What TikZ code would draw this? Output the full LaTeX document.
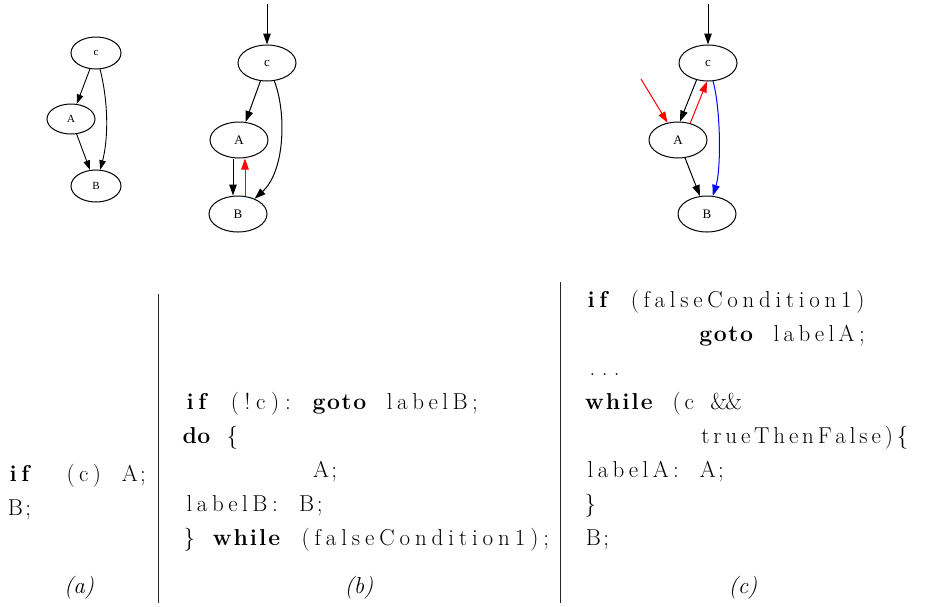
\documentclass[tikz,border=0pt]{standalone}
\usepackage{fontspec}
\newfontfamily\gvfont{Liberation Serif}
\usetikzlibrary{arrows.meta,shapes.geometric}
\ExplSyntaxOn
\dim_new:N \cw
\dim_set:Nn \cw {14.3pt}
\tl_new:N \l_fc_buf_tl
\cs_new_protected:Npn \fc_char:n #1
  {
    \str_case:nnF {#1}
      { { < } { \{ } { > } { \} } }
      { #1 }
  }
\cs_new_protected:Npn \fc_unit:n #1
  {
    \hbox_to_wd:nn { \int_eval:n { \str_count:n {#1} } \cw }
      { \hss \str_map_inline:nn {#1} { \fc_char:n {##1} \hss } }
  }
\cs_new_protected:Npn \fc_bold:n #1
  { \group_begin: \bfseries \fc_unit:n {#1} \group_end: }
\cs_new_protected:Npn \fc_kw:n #1
  {
    \str_case:nnF {#1}
      {
        {if} { \fc_bold:n {#1} }
        {do} { \fc_bold:n {#1} }
        {while} { \fc_bold:n {#1} }
        {goto} { \fc_bold:n {#1} }
      }
      { \fc_unit:n {#1} }
  }
\cs_new_protected:Npn \fc_flush:
  {
    \tl_if_empty:NF \l_fc_buf_tl
      {
        \exp_args:NV \fc_kw:n \l_fc_buf_tl
        \tl_clear:N \l_fc_buf_tl
      }
  }
\cs_new_protected:Npn \fc_blank:
  { \fc_flush: \hbox_to_wd:nn { \cw } { } }
\cs_new_protected:Npn \fc_line:n #1
  {
    \tl_clear:N \l_fc_buf_tl
    \str_map_inline:nn {#1}
      {
        \str_if_eq:nnTF {##1} {~}
          { \fc_blank: }
          {
            \str_if_eq:nnTF {##1} {_}
              { \fc_blank: }
              { \tl_put_right:Nn \l_fc_buf_tl {##1} }
          }
      }
    \fc_flush:
  }
\NewDocumentCommand \fcline { m } { \hbox:n { \fc_line:n {#1} } }
\ExplSyntaxOff
\tikzset{
  gvnode/.style={ellipse, draw, line width=1pt, inner sep=0pt,
    font=\gvfont\fontsize{13}{13}\selectfont, minimum width=58pt, minimum height=36pt},
  gvsmall/.style={gvnode, font=\gvfont\fontsize{11}{11}\selectfont,
    minimum width=50pt, minimum height=32pt},
  edge/.style={line width=1pt, -{Triangle[length=11pt,width=7.5pt]}},
  edgesmall/.style={line width=0.9pt, -{Triangle[length=9.5pt,width=6.5pt]}},
  redge/.style={edge, red},
  bedge/.style={edge, blue},
  code/.style={inner sep=0pt, anchor=base west, font=\fontsize{23}{23}\selectfont},
  subcap/.style={inner sep=0pt, anchor=base, font=\fontsize{23}{23}\selectfont\itshape},
  divider/.style={line width=1pt, black!85}
}
\begin{document}
\begin{tikzpicture}[x=1pt,y=-1pt]
\useasboundingbox (0,0) rectangle (925,606);
% ---------- graph (a)
\node[gvsmall] (ca) at (96,53) {c};
\node[gvsmall, minimum width=48pt, minimum height=30pt] (Aa) at (71,119) {A};
\node[gvsmall] (Ba) at (96,186) {B};
\draw[edgesmall] (ca) -- (Aa);
\draw[edgesmall] (Aa) -- (Ba);
\draw[edgesmall] (ca) .. controls (109,105) and (108,140) .. (Ba);
% ---------- graph (b)
\coordinate (tb) at (267,4);
\node[gvnode] (cb) at (267,63) {c};
\node[gvnode] (Ab) at (239,140) {A};
\node[gvnode] (Bb) at (238,214) {B};
\draw[edge] (tb) -- (cb);
\draw[edge] (cb) -- (Ab);
\draw[edge] ([xshift=-6]Ab.south) -- ([xshift=-5]Bb.north);
\draw[redge] ([xshift=7]Bb.north) -- ([xshift=6]Ab.south);
\draw[edge] (cb) .. controls (286,110) and (286,170) .. (Bb);
% ---------- graph (c)
\coordinate (tc) at (708,4);
\coordinate (rin) at (641,79);
\node[gvnode] (cc) at (708,63) {c};
\node[gvnode] (Ac) at (678,140) {A};
\node[gvnode] (Bc) at (707,214) {B};
\draw[edge] (tc) -- (cc);
\draw[edge] (cc.236) -- (Ac.84);
\draw[redge] (Ac.54) -- (cc.267);
\draw[redge] (rin) -- (Ac);
\draw[bedge] (cc) .. controls (721,110) and (721,170) .. (Bc);
\draw[edge] (Ac) -- (Bc);
% ---------- dividers
\coordinate (d1t) at (158,294);
\coordinate (d1b) at (158,603);
\coordinate (d2t) at (560,282);
\coordinate (d2b) at (560,603);
\draw[divider] (d1t) -- (d1b);
\draw[divider] (d2t) -- (d2b);
% ---------- code (a)
\node[code] (a1) at (5,481) {\fcline{if_ (c) A;}};
\node[code] (a2) at (5,515) {\fcline{B;}};
% ---------- code (b)
\node[code] (b1) at (182,409) {\fcline{if (!c): goto labelB;}};
\node[code] (b2) at (182,443) {\fcline{do <}};
\node[code] (b3) at (182,477) {\fcline{_________A;}};
\node[code] (b4) at (182,511) {\fcline{labelB: B;}};
\node[code] (b5) at (182,545) {\fcline{> while (falseCondition1);}};
% ---------- code (c)
\node[code] (c1) at (583,307) {\fcline{if (falseCondition1)}};
\node[code] (c2) at (583,341) {\fcline{________goto labelA;}};
\node[code] (c3) at (583,375) {\fcline{...}};
\node[code] (c4) at (583,409) {\fcline{while (c &&}};
\node[code] (c5) at (583,443) {\fcline{________trueThenFalse)<}};
\node[code] (c6) at (583,477) {\fcline{labelA: A;}};
\node[code] (c7) at (583,511) {\fcline{>}};
\node[code] (c8) at (583,545) {\fcline{B;}};
% ---------- captions
\node[subcap] (capa) at (79,593) {(a)};
\node[subcap] (capb) at (359,593) {(b)};
\node[subcap] (capc) at (743,593) {(c)};
\end{tikzpicture}
\end{document}
